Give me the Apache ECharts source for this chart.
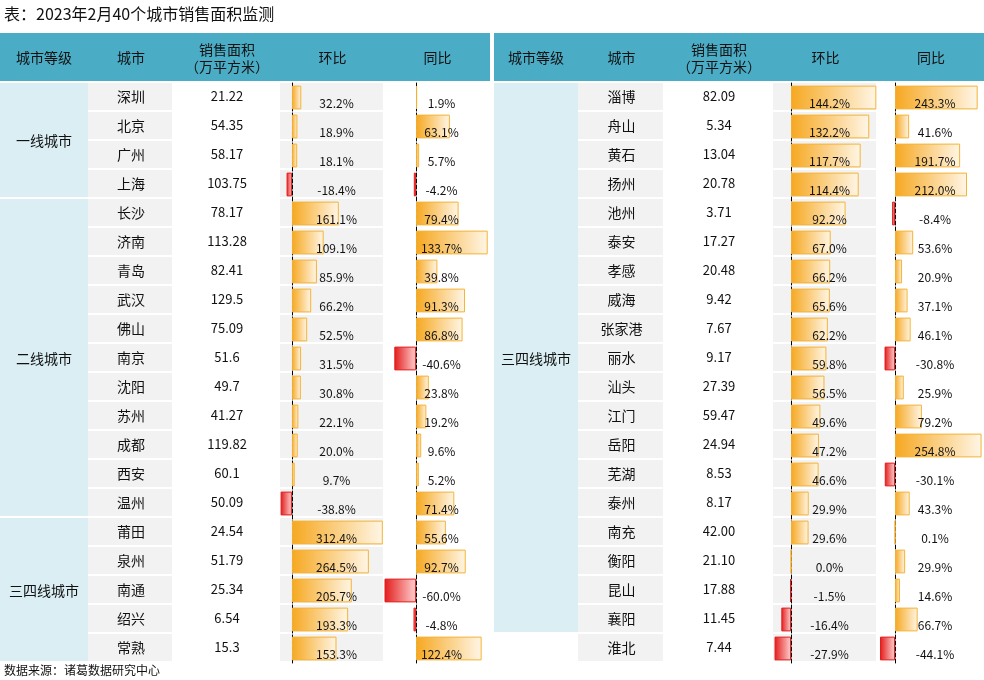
<!DOCTYPE html>
<html><head><meta charset="utf-8">
<script src="https://cdn.jsdelivr.net/npm/echarts@6/dist/echarts.min.js"></script>
<style>html,body{margin:0;background:#fff}#c{width:984px;height:680px}</style>
</head><body><div id="c"></div>
<script>
// left table
var leftTiers = [['一线城市', 4], ['二线城市', 11], ['三四线城市', 5]];
var leftCities = ['深圳','北京','广州','上海','长沙','济南','青岛','武汉','佛山','南京','沈阳','苏州','成都','西安','温州','莆田','泉州','南通','绍兴','常熟'];
var leftArea = ['21.22','54.35','58.17','103.75','78.17','113.28','82.41','129.5','75.09','51.6','49.7','41.27','119.82','60.1','50.09','24.54','51.79','25.34','6.54','15.3'];
var leftMom = [32.2,18.9,18.1,-18.4,161.1,109.1,85.9,66.2,52.5,31.5,30.8,22.1,20.0,9.7,-38.8,312.4,264.5,205.7,193.3,153.3];
var leftYoy = [1.9,63.1,5.7,-4.2,79.4,133.7,39.8,91.3,86.8,-40.6,23.8,19.2,9.6,5.2,71.4,55.6,92.7,-60.0,-4.8,122.4];
// right table
var rightTiers = [['三四线城市', 19]];
var rightCities = ['淄博','舟山','黄石','扬州','池州','泰安','孝感','威海','张家港','丽水','汕头','江门','岳阳','芜湖','泰州','南充','衡阳','昆山','襄阳','淮北'];
rightCities = rightCities.slice(0, 19).concat(['淮北']).filter(function (c, i, a) { return a.indexOf(c) === i; });
var rightArea = ['82.09','5.34','13.04','20.78','3.71','17.27','20.48','9.42','7.67','9.17','27.39','59.47','24.94','8.53','8.17','42.00','21.10','17.88','11.45','7.44'];
var rightMom = [144.2,132.2,117.7,114.4,92.2,67.0,66.2,65.6,62.2,59.8,56.5,49.6,47.2,46.6,29.9,29.6,0.0,-1.5,-16.4,-27.9];
var rightYoy = [243.3,41.6,191.7,212.0,-8.4,53.6,20.9,37.1,46.1,-30.8,25.9,79.2,254.8,-30.1,43.3,0.1,29.9,14.6,66.7,-44.1];
var headers = ['城市等级', '城市', '销售面积\n（万平方米）', '环比', '同比'];

var FONT = '"Noto Sans CJK SC", sans-serif';
var TOP = 83, BOTTOM = 663;
var leftCols = [0, 88, 174, 280, 385, 490];
var rightCols = [494, 578, 665, 773, 878, 984];

var graphics = [];
function rect(x, y, w, h, fill) {
  graphics.push({ type: 'rect', shape: { x: x, y: y, width: w, height: h }, style: { fill: fill }, silent: true });
}
function text(x, y, s, size, align) {
  graphics.push({ type: 'text', x: x, y: y, style: { text: s, fill: '#111', font: size + 'px ' + FONT, align: align || 'center', verticalAlign: 'middle', lineHeight: 17 }, silent: true });
}

text(4, 14, '表：2023年2月40个城市销售面积监测', 16, 'left');
text(4, 670, '数据来源：诸葛数据研究中心', 12, 'left');

function table(cols, tiers, cities, area, n) {
  var rh = (BOTTOM - TOP) / n;
  rect(cols[0], 33, cols[5] - cols[0], TOP - 35, '#4bacc6');
  headers.forEach(function (h, i) { text((cols[i] + cols[i + 1]) / 2, 58, h, 14); });
  var r = 0;
  tiers.forEach(function (t) {
    rect(cols[0], TOP + r * rh, cols[1] - cols[0], t[1] * rh - 2, '#daeef3');
    text((cols[0] + cols[1]) / 2, TOP + (r + t[1] / 2) * rh, t[0], 14);
    r += t[1];
  });
  for (var i = 0; i < n; i++) {
    var y = TOP + i * rh;
    rect(cols[1], y, cols[2] - cols[1] - 2, rh - 2, '#f2f2f2');
    rect(cols[3], y, cols[4] - cols[3] - 2, rh - 2, '#f2f2f2');
    text((cols[1] + cols[2]) / 2, y + rh / 2 - 1, cities[i], 14);
    text((cols[2] + cols[3]) / 2, y + rh / 2 - 1, area[i], 13);
  }
}
table(leftCols, leftTiers, leftCities, leftArea, 20);
table(rightCols, rightTiers, rightCities, rightArea, 20);

function barStyle(v) {
  if (v < 0) {
    return { color: new echarts.graphic.LinearGradient(0, 0, 1, 0, [{ offset: 0, color: '#e31b1b' }, { offset: 1, color: '#ffd0d0' }]), borderColor: '#e31b1b', borderWidth: 1 };
  }
  return { color: new echarts.graphic.LinearGradient(0, 0, 1, 0, [{ offset: 0, color: '#f6a821' }, { offset: 1, color: '#fff6e6' }]), borderColor: '#f5b335', borderWidth: 1 };
}

var columns = [
  { vals: leftMom, x: 280, w: 105, min: -41, max: 320, n: 20 },
  { vals: leftYoy, x: 385, w: 105, min: -58, max: 138, n: 20 },
  { vals: rightMom, x: 773, w: 105, min: -30.5, max: 147, n: 20 },
  { vals: rightYoy, x: 878, w: 106, min: -50, max: 262, n: 20 }
];
var grids = [], xAxes = [], yAxes = [], series = [];
columns.forEach(function (c, k) {
  grids.push({ left: c.x, top: TOP, width: c.w, height: BOTTOM - TOP });
  xAxes.push({ type: 'value', gridIndex: k, min: c.min, max: c.max, show: false });
  yAxes.push({ type: 'category', gridIndex: k, inverse: true, data: c.vals.map(function (v, i) { return i; }),
    axisLabel: { show: false }, axisTick: { show: false },
    axisLine: { show: true, onZero: true, lineStyle: { color: '#000', type: 'dashed', width: 1 } } });
  series.push({
    type: 'bar', xAxisIndex: k, yAxisIndex: k, barCategoryGap: '18%', z: 3,
    data: c.vals.map(function (v) { return { value: v, itemStyle: barStyle(v) }; }),
    label: { show: true, position: 'insideLeft', formatter: function (p) { return p.value.toFixed(1) + '%'; },
      color: '#111', fontSize: 12, fontFamily: FONT, offset: [0, 0] },
    labelLayout: function (p) { return { x: c.x + c.w / 2 + 4, align: 'center' }; }
  });
});

var chart = echarts.init(document.getElementById('c'));
chart.setOption({
  animation: false,
  grid: grids, xAxis: xAxes, yAxis: yAxes, series: series,
  graphic: graphics
});
</script></body></html>
